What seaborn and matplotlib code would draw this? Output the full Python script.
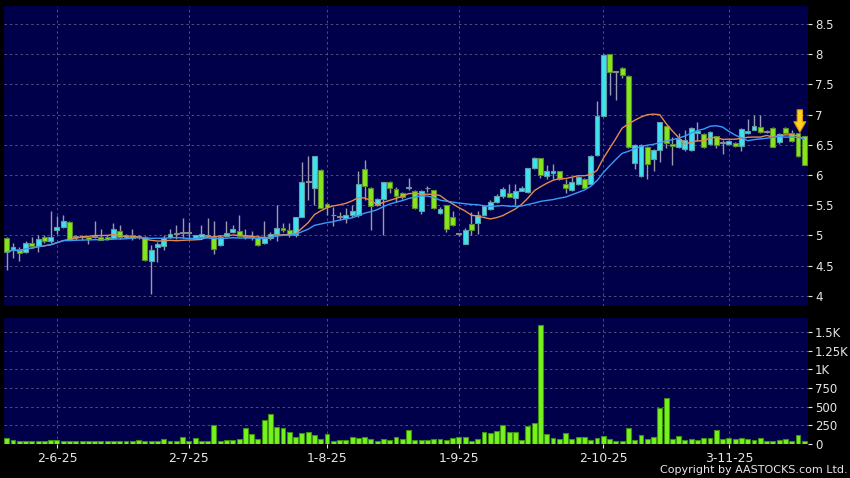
import numpy as np
import pandas as pd
import matplotlib
matplotlib.use("Agg")
import matplotlib.pyplot as plt
import seaborn as sns

# ---------------- data ----------------
opens = [4.96, 4.76, 4.78, 4.73, 4.88, 4.83, 4.98, 4.91, 5.09, 5.14,
         5.22, 4.97, 4.97, 4.98, 4.98, 4.98, 4.98, 4.96, 5.08, 4.98,
         5.00, 4.97, 4.97, 4.57, 4.81, 4.83, 4.97, 5.03, 5.04, 5.04,
         4.96, 4.97, 4.99, 4.97, 4.84, 4.99, 5.06, 5.08, 4.98, 4.97,
         4.96, 4.88, 4.95, 5.02, 5.13, 5.09, 5.00, 5.31, 5.89, 5.78,
         6.09, 5.52, 5.33, 5.31, 5.29, 5.33, 5.34, 6.10, 5.79, 5.51,
         5.61, 5.88, 5.77, 5.70, 5.78, 5.74, 5.41, 5.78, 5.75, 5.37,
         5.50, 5.30, 5.02, 4.86, 5.19, 5.20, 5.34, 5.44, 5.55, 5.66,
         5.71, 5.62, 5.74, 5.72, 6.12, 6.29, 5.98, 6.04, 6.06, 5.85,
         5.75, 5.85, 5.94, 5.85, 6.33, 6.98, 8.00, 7.72, 7.78, 7.64,
         6.20, 5.99, 6.47, 6.26, 6.42, 6.81, 6.52, 6.47, 6.43, 6.42,
         6.70, 6.68, 6.52, 6.64, 6.53, 6.51, 6.53, 6.48, 6.70, 6.75,
         6.79, 6.72, 6.78, 6.54, 6.78, 6.70, 6.69, 6.64]
highs = [4.97, 4.88, 4.80, 4.91, 4.97, 5.00, 5.00, 5.40, 5.32, 5.33,
         5.23, 5.00, 5.00, 4.99, 5.24, 5.10, 5.00, 5.21, 5.18, 5.03,
         5.10, 5.00, 4.99, 4.84, 4.89, 5.00, 5.11, 5.17, 5.29, 5.22,
         5.01, 5.17, 5.28, 5.23, 5.00, 5.23, 5.17, 5.33, 5.10, 5.08,
         5.00, 5.23, 5.05, 5.51, 5.20, 5.20, 5.31, 6.22, 6.31, 6.31,
         6.10, 5.53, 5.47, 5.38, 5.45, 5.50, 6.06, 6.25, 5.80, 5.62,
         5.88, 5.90, 5.80, 5.72, 5.95, 5.76, 5.75, 5.82, 5.76, 5.47,
         5.50, 5.40, 5.04, 5.12, 5.39, 5.40, 5.50, 5.58, 5.68, 5.80,
         5.85, 5.85, 5.81, 6.12, 6.30, 6.29, 6.16, 6.18, 6.07, 5.93,
         5.96, 5.98, 5.95, 6.33, 7.22, 8.00, 8.00, 7.73, 7.79, 7.65,
         6.51, 6.51, 6.48, 6.43, 6.88, 6.82, 6.63, 6.70, 6.75, 6.79,
         6.88, 6.69, 6.73, 6.65, 6.58, 6.58, 6.54, 6.78, 6.92, 6.99,
         6.99, 6.75, 6.79, 6.70, 6.79, 6.74, 6.70, 6.65]
lows = [4.43, 4.62, 4.58, 4.70, 4.81, 4.73, 4.88, 4.88, 5.03, 5.12,
        4.92, 4.93, 4.93, 4.86, 4.95, 4.93, 4.93, 4.94, 4.94, 4.95,
        4.93, 4.94, 4.58, 4.03, 4.56, 4.75, 4.95, 4.94, 4.96, 4.96,
        4.94, 4.94, 4.97, 4.69, 4.82, 4.97, 5.04, 4.97, 4.94, 4.92,
        4.82, 4.86, 4.92, 4.90, 5.06, 4.98, 4.97, 5.30, 5.59, 5.50,
        5.45, 5.33, 5.15, 5.25, 5.20, 5.30, 5.30, 5.59, 5.09, 5.49,
        5.00, 5.70, 5.55, 5.60, 5.75, 5.43, 5.36, 5.72, 5.44, 5.35,
        5.06, 5.15, 4.99, 4.85, 5.00, 5.02, 5.32, 5.42, 5.53, 5.62,
        5.63, 5.50, 5.73, 5.70, 6.10, 5.95, 5.93, 5.93, 5.92, 5.71,
        5.73, 5.84, 5.78, 5.84, 6.32, 6.97, 7.32, 7.24, 7.60, 6.45,
        6.10, 5.96, 5.93, 6.07, 6.21, 6.45, 6.16, 6.45, 6.40, 6.40,
        6.57, 6.44, 6.50, 6.45, 6.35, 6.49, 6.46, 6.40, 6.68, 6.74,
        6.70, 6.70, 6.46, 6.52, 6.68, 6.55, 6.30, 6.16]
closes = [4.72, 4.80, 4.71, 4.88, 4.83, 4.94, 4.91, 4.97, 5.14, 5.23,
          4.93, 4.97, 4.97, 4.94, 4.98, 4.93, 4.94, 5.10, 4.97, 5.00,
          4.95, 4.97, 4.60, 4.75, 4.85, 4.96, 5.03, 5.03, 5.04, 5.04,
          5.00, 5.03, 5.01, 4.78, 4.97, 5.04, 5.11, 4.99, 4.98, 4.97,
          4.84, 4.96, 5.02, 5.13, 5.09, 5.01, 5.30, 5.88, 5.90, 6.31,
          5.46, 5.47, 5.33, 5.31, 5.34, 5.41, 5.85, 5.81, 5.49, 5.60,
          5.88, 5.78, 5.66, 5.64, 5.80, 5.45, 5.74, 5.78, 5.45, 5.43,
          5.10, 5.18, 5.02, 5.09, 5.09, 5.33, 5.48, 5.56, 5.66, 5.77,
          5.64, 5.74, 5.79, 6.12, 6.29, 6.00, 6.06, 6.06, 5.93, 5.78,
          5.88, 5.97, 5.79, 6.32, 6.97, 7.99, 7.70, 7.71, 7.66, 6.46,
          6.50, 6.50, 6.18, 6.42, 6.87, 6.53, 6.48, 6.60, 6.58, 6.78,
          6.73, 6.46, 6.71, 6.49, 6.54, 6.56, 6.48, 6.77, 6.73, 6.82,
          6.72, 6.73, 6.47, 6.68, 6.69, 6.57, 6.31, 6.17]
volume = [81, 54, 36, 36, 36, 36, 36, 45, 54, 40,
          36, 36, 36, 36, 36, 36, 36, 36, 36, 36,
          40, 45, 40, 40, 40, 68, 40, 40, 86, 40,
          81, 40, 40, 248, 40, 45, 45, 68, 212, 135,
          68, 320, 405, 220, 216, 162, 90, 149, 162, 117,
          68, 131, 40, 45, 45, 90, 72, 90, 63, 32,
          63, 45, 95, 63, 189, 54, 54, 54, 58, 58,
          54, 72, 85, 85, 40, 58, 153, 144, 166, 251,
          157, 157, 49, 233, 283, 1598, 130, 72, 63, 148,
          63, 85, 90, 49, 76, 99, 67, 36, 36, 207,
          45, 112, 67, 90, 480, 611, 63, 108, 49, 63,
          49, 76, 76, 189, 63, 76, 67, 76, 58, 49,
          72, 40, 40, 45, 58, 40, 121, 36]
date_labels = ["2-6-25", "2-7-25", "1-8-25", "1-9-25", "2-10-25", "3-11-25"]
date_bar_index = [8, 29, 51, 72, 95, 115]
price_ticks = [4, 4.5, 5, 5.5, 6, 6.5, 7, 7.5, 8, 8.5]
vol_ticks = [0, 250, 500, 750, 1000, 1250, 1500]
vol_tick_labels = ["0", "250", "500", "750", "1K", "1.25K", "1.5K"]
ma_windows = [10, 20]

# ---------------- build frame ----------------
df = pd.DataFrame({"o": opens, "h": highs, "l": lows, "c": closes, "v": volume})
df["idx"] = np.arange(len(df))
df["ma10"] = df["c"].rolling(ma_windows[0], min_periods=1).mean()
df["ma20"] = df["c"].rolling(ma_windows[1], min_periods=1).mean()

BG = "#000000"
PANEL = "#00004a"
GRID = "#50507e"
TXT = "#e6e6e6"
UP = "#3de3ee"
UP_EDGE = "#5f9fa8"
DN = "#86e61e"
DN_EDGE = "#5a8c2a"
DOJI = "#b4b4b4"
WICK = "#9a9aae"

sns.set_theme(style="dark", rc={"axes.facecolor": PANEL, "figure.facecolor": BG})
plt.rcParams["font.family"] = ["DejaVu Sans"]

fig = plt.figure(figsize=(8.5, 4.78), dpi=100)
fig.patch.set_facecolor(BG)
ax = fig.add_axes([4 / 850, 1 - 306 / 478, 804 / 850, 300 / 478])
axv = fig.add_axes([4 / 850, 1 - 443.7 / 478, 804 / 850, 125.7 / 478])

# ---------------- candles ----------------
diff = df["c"] - df["o"]
is_doji = diff.abs() < 0.015
body_col = np.where(is_doji, DOJI, np.where(diff > 0, UP, DN))
edge_col = np.where(is_doji, "#8a8a8a", np.where(diff > 0, UP_EDGE, DN_EDGE))
heights = np.maximum(diff.abs().values, 0.012)
bottoms = np.minimum(df["o"].values, df["c"].values)

ax.vlines(df["idx"], df["l"], df["h"], color=WICK, lw=1.0, zorder=2)
ax.bar(df["idx"], heights, bottom=bottoms, width=0.78, color=body_col,
       edgecolor=edge_col, linewidth=0.8, zorder=3)

sns.lineplot(x=df["idx"], y=df["ma10"], ax=ax, color="#e58a4e", lw=1.0, zorder=4)
sns.lineplot(x=df["idx"], y=df["ma20"], ax=ax, color="#3a9cf5", lw=1.0, zorder=4)

# yellow arrow marker above last bars
ax.annotate("", xy=(126.3, 6.71), xytext=(126.3, 7.08),
            arrowprops=dict(arrowstyle="simple,head_width=0.85,head_length=0.75,tail_width=0.38",
                            fc="#ffd024", ec="#e09a00", lw=0.8, shrinkA=0, shrinkB=0,
                            mutation_scale=10),
            zorder=6)

# ---------------- volume ----------------
sns.barplot(x=df["idx"], y=df["v"], ax=axv, color="#74f41c", edgecolor="#3f8f10",
            linewidth=0.8, width=0.78, saturation=1, zorder=3)

# ---------------- styling ----------------
for a in (ax, axv):
    a.set_facecolor(PANEL)
    a.set_xlim(-0.43, 127.6)
    for s in a.spines.values():
        s.set_visible(False)
    a.set_xlabel("")
    a.set_ylabel("")
    a.yaxis.tick_right()
    a.tick_params(axis="y", which="both", right=True, left=False, length=3, width=0.8,
                  color=TXT, pad=2, labelsize=8.5, labelcolor=TXT)
    a.set_xticks(date_bar_index)
    a.grid(True, color=GRID, ls=(0, (2.5, 3)), lw=0.7)
    a.set_axisbelow(True)

ax.set_ylim(3.83, 8.80)
ax.set_yticks(price_ticks)
ax.set_yticklabels([f"{t:g}" for t in price_ticks])
ax.tick_params(axis="x", bottom=False, labelbottom=False)

axv.set_ylim(0, 1690)
axv.set_yticks(vol_ticks)
axv.set_yticklabels(vol_tick_labels)
axv.set_xticklabels(date_labels)
axv.tick_params(axis="x", bottom=True, length=3, width=0.8, color=TXT, pad=3,
                labelsize=9, labelcolor=TXT)

fig.text(848 / 850, 1 - 470 / 478, "Copyright by AASTOCKS.com Ltd.", color=TXT,
         fontsize=8, ha="right", va="center")

fig.savefig("out.png", dpi=100, facecolor=BG)
